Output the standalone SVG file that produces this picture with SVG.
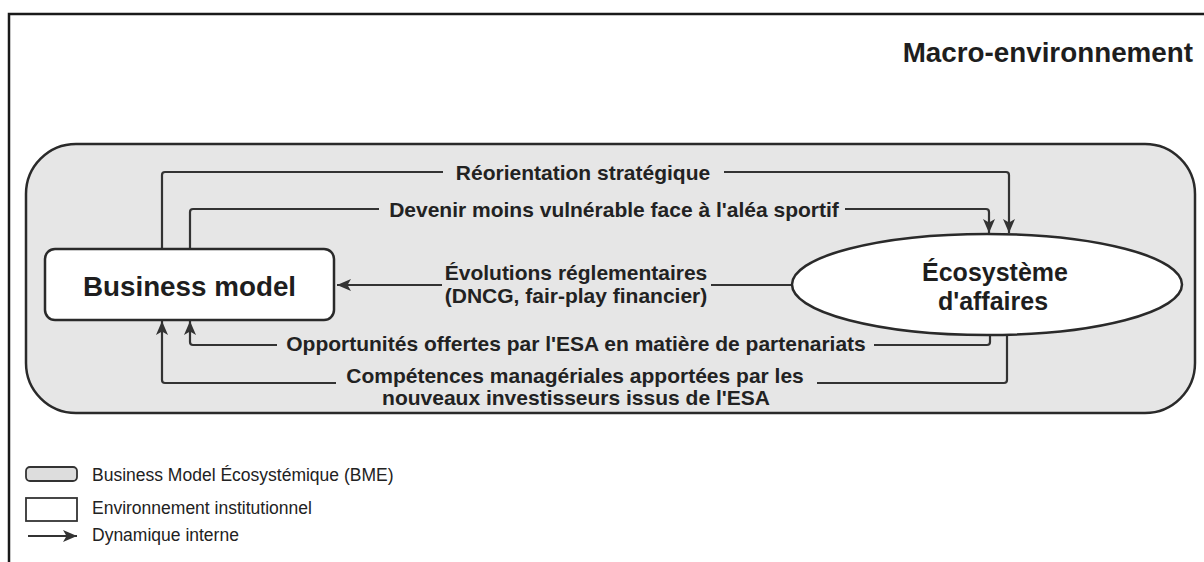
<svg xmlns="http://www.w3.org/2000/svg" width="1204" height="562" viewBox="0 0 1204 562">
  <style>
    .frame { fill: #ffffff; stroke: #1a1a1a; stroke-width: 2.5; }
    .bme { fill: #e6e6e6; stroke: #2a2a2a; stroke-width: 2.5; }
    .node { fill: #ffffff; stroke: #2a2a2a; stroke-width: 2.5; }
    .conn { fill: none; stroke: #333333; stroke-width: 2.2; }
    .lbl { font-family: "Liberation Sans", Arial, sans-serif; font-weight: bold; font-size: 21px; fill: #222222; text-anchor: middle; }
    .lblbg { fill: #e6e6e6; stroke: none; }
    .title { font-family: "Liberation Sans", Arial, sans-serif; font-weight: bold; font-size: 27.8px; fill: #1e1e1e; }
    .legend { font-family: "Liberation Sans", Arial, sans-serif; font-size: 17.5px; fill: #222222; }
  </style>
  <defs>
    <marker id="arrow" markerUnits="userSpaceOnUse" markerWidth="16" markerHeight="16" viewBox="0 0 16 16" refX="14" refY="8" orient="auto">
      <path d="M0,2 L14,8 L0,14 L3.5,8 Z" fill="#333333"/>
    </marker>
  </defs>

  <rect class="frame" x="9" y="14" width="1210" height="560"/>

  <g id="macro-environnement">
    <text class="title" x="1193" y="62" text-anchor="end">Macro-environnement</text>
  </g>

  <g id="bme">
    <rect class="bme" x="26" y="144" width="1169" height="269" rx="50" ry="50"/>
  </g>

  <g id="connectors">
    <path class="conn" d="M162,249 V175 Q162,172 165,172 H1006 Q1009,172 1009,175 V233" marker-end="url(#arrow)"/>
    <path class="conn" d="M190,249 V212 Q190,209 193,209 H986 Q989,209 989,212 V233" marker-end="url(#arrow)"/>
    <path class="conn" d="M792,285 H337" marker-end="url(#arrow)"/>
    <path class="conn" d="M990,335 V342 Q990,345 987,345 H193 Q190,345 190,342 V321" marker-end="url(#arrow)"/>
    <path class="conn" d="M1007,335 V380 Q1007,383 1004,383 H165 Q162,383 162,380 V321" marker-end="url(#arrow)"/>

    <rect class="lblbg" x="443" y="160" width="281" height="24"/>
    <text class="lbl" x="583" y="180">Réorientation stratégique</text>

    <rect class="lblbg" x="379" y="197" width="466" height="24"/>
    <text class="lbl" x="614" y="217">Devenir moins vulnérable face à l'aléa sportif</text>

    <rect class="lblbg" x="442" y="262" width="269" height="46"/>
    <text class="lbl" x="576" y="280">Évolutions réglementaires</text>
    <text class="lbl" x="576" y="303">(DNCG, fair-play financier)</text>

    <rect class="lblbg" x="277" y="333" width="597" height="24"/>
    <text class="lbl" x="576" y="351">Opportunités offertes par l'ESA en matière de partenariats</text>

    <rect class="lblbg" x="336" y="368" width="481" height="42"/>
    <text class="lbl" x="575" y="383">Compétences managériales apportées par les</text>
    <text class="lbl" x="576" y="405">nouveaux investisseurs issus de l'ESA</text>
  </g>

  <g id="business-model">
    <rect class="node" x="45" y="249" width="289" height="71" rx="10" ry="10"/>
    <text x="189.5" y="296" text-anchor="middle" font-family="Liberation Sans, Arial, sans-serif" font-weight="bold" font-size="27.8" fill="#1e1e1e">Business model</text>
  </g>

  <g id="ecosysteme">
    <ellipse class="node" cx="987" cy="284.5" rx="195" ry="50.5"/>
    <text x="995" y="281" text-anchor="middle" font-family="Liberation Sans, Arial, sans-serif" font-weight="bold" font-size="25" fill="#1e1e1e">Écosystème</text>
    <text x="993" y="310" text-anchor="middle" font-family="Liberation Sans, Arial, sans-serif" font-weight="bold" font-size="25" fill="#1e1e1e">d'affaires</text>
  </g>

  <g id="legend">
    <rect x="26" y="467" width="51" height="14" rx="4" ry="4" fill="#dddddd" stroke="#333333" stroke-width="1.8"/>
    <text class="legend" x="92" y="481">Business Model Écosystémique (BME)</text>
    <rect x="26" y="498" width="51" height="23" fill="#ffffff" stroke="#333333" stroke-width="1.8"/>
    <text class="legend" x="92" y="514">Environnement institutionnel</text>
    <path d="M28,536 H77" stroke="#333333" stroke-width="2" fill="none" marker-end="url(#arrow)"/>
    <text class="legend" x="92" y="541">Dynamique interne</text>
  </g>
</svg>
